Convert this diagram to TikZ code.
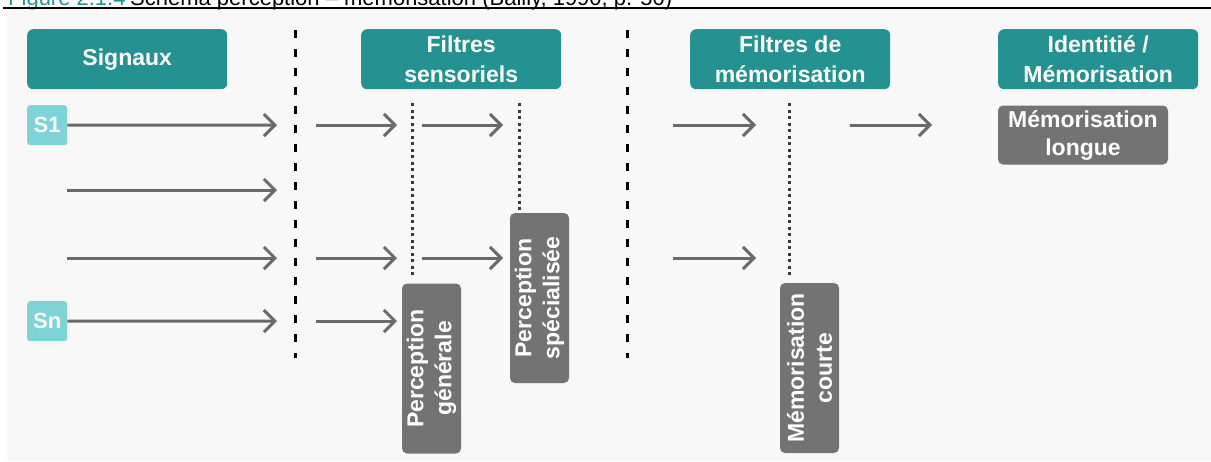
\documentclass[tikz,border=0pt]{standalone}
\usepackage{fontspec}
\setmainfont{Liberation Sans}
\usetikzlibrary{arrows.meta}
\definecolor{headteal}{HTML}{239290}
\definecolor{lteal}{HTML}{7DD3D5}
\definecolor{boxgray}{HTML}{737373}
\definecolor{arrgray}{HTML}{6A6A6A}
\definecolor{bgcol}{HTML}{F8F8F8}
\definecolor{dotgray}{HTML}{3A3A3A}
\begin{document}
\begin{tikzpicture}[x=1pt,y=-1pt,
  header/.style={fill=headteal, rounded corners=6pt, minimum width=200pt, minimum height=60pt,
    text=white, font=\bfseries\fontsize{23}{30}\selectfont, align=center, inner sep=0pt, anchor=north west},
  sig/.style={fill=lteal, rounded corners=3pt, minimum size=40pt, inner sep=0pt, text=white,
    font=\bfseries\fontsize{22}{24}\selectfont, anchor=north west},
  graybox/.style={fill=boxgray, rounded corners=5pt, minimum width=170pt, minimum height=59pt,
    text=white, font=\bfseries\fontsize{23}{28}\selectfont, align=center, inner sep=0pt},
  flow/.style={draw=arrgray, line width=3pt, -{Straight Barb[length=11pt,width=22pt]}},
  sepline/.style={draw=black, line width=3pt, dash pattern=on 8pt off 11pt},
  dotline/.style={draw=dotgray, line width=3pt, dash pattern=on 3pt off 3.5pt},
  captxt/.style={font=\fontsize{22}{26}\selectfont, inner sep=0pt, anchor=base west}
]
\clip (0,0) rectangle (1211,461);
\fill[white] (0,0) rectangle (1211,461);
\fill[bgcol] (7,9) rectangle (1211,461);
% caption (cut off at the top, as in the reference)
\node[captxt, text=headteal] (capnum) at (8,5) {Figure 2.1.4};
\node[captxt, text=black] (captitle) at (130,5) {Schéma perception – mémorisation (Bailly, 1990, p. 50)};
\coordinate (capL) at (3,8);
\coordinate (capR) at (1211,8);
\draw[black, line width=1.5pt] (capL) -- (capR);

% headers
\node[header] (hsig) at (27,29) {Signaux};
\node[header] (hfs) at (361,29) {Filtres\\sensoriels};
\node[header] (hfm) at (690,29) {Filtres de\\mémorisation};
\node[header] (hid) at (998,29) {Identitié /\\Mémorisation};

% signal boxes
\node[sig] (s1) at (27,105) {S1};
\node[sig] (sn) at (27,301) {Sn};

% gray boxes
\node[graybox] (mlongue) at (1083,135) {Mémorisation\\longue};
\node[graybox, rotate=90] (pgen) at (431.5,368.5) {Perception\\générale};
\node[graybox, rotate=90] (pspec) at (539.5,298) {Perception\\spécialisée};
\node[graybox, rotate=90] (mcourte) at (809.5,368) {Mémorisation\\courte};

% separators
\coordinate (sepAt) at (295,30); \coordinate (sepAb) at (295,358);
\coordinate (sepBt) at (627,30); \coordinate (sepBb) at (627,358);
\draw[sepline] (sepAt) -- (sepAb);
\draw[sepline] (sepBt) -- (sepBb);

% dotted filters
\coordinate (dAt) at (412,103); \coordinate (dAb) at (412,278);
\coordinate (dBt) at (519,103); \coordinate (dBb) at (519,210);
\coordinate (dCt) at (789,103); \coordinate (dCb) at (789,278);
\draw[dotline] (dAt) -- (dAb);
\draw[dotline] (dBt) -- (dBb);
\draw[dotline] (dCt) -- (dCb);

% column 1 arrows
\coordinate (c1e1) at (277,125);
\coordinate (c1s2) at (67,190); \coordinate (c1e2) at (277,190);
\coordinate (c1s3) at (67,258); \coordinate (c1e3) at (277,258);
\coordinate (c1e4) at (277,321);
\draw[flow] (s1.east) -- (c1e1);
\draw[flow] (c1s2) -- (c1e2);
\draw[flow] (c1s3) -- (c1e3);
\draw[flow] (sn.east) -- (c1e4);

% column 2 arrows
\coordinate (c2s1) at (316,125); \coordinate (c2e1) at (397,125);
\coordinate (c2s3) at (316,258); \coordinate (c2e3) at (397,258);
\coordinate (c2s4) at (316,321); \coordinate (c2e4) at (397,321);
\draw[flow] (c2s1) -- (c2e1);
\draw[flow] (c2s3) -- (c2e3);
\draw[flow] (c2s4) -- (c2e4);

% column 3 arrows
\coordinate (c3s1) at (422,125); \coordinate (c3e1) at (503,125);
\coordinate (c3s3) at (422,258); \coordinate (c3e3) at (503,258);
\draw[flow] (c3s1) -- (c3e1);
\draw[flow] (c3s3) -- (c3e3);

% column 4 arrows
\coordinate (c4s1) at (673,125); \coordinate (c4e1) at (756,125);
\coordinate (c4s3) at (673,258); \coordinate (c4e3) at (756,258);
\draw[flow] (c4s1) -- (c4e1);
\draw[flow] (c4s3) -- (c4e3);

% column 5 arrow
\coordinate (c5s1) at (850,125); \coordinate (c5e1) at (932,125);
\draw[flow] (c5s1) -- (c5e1);
\end{tikzpicture}
\end{document}
